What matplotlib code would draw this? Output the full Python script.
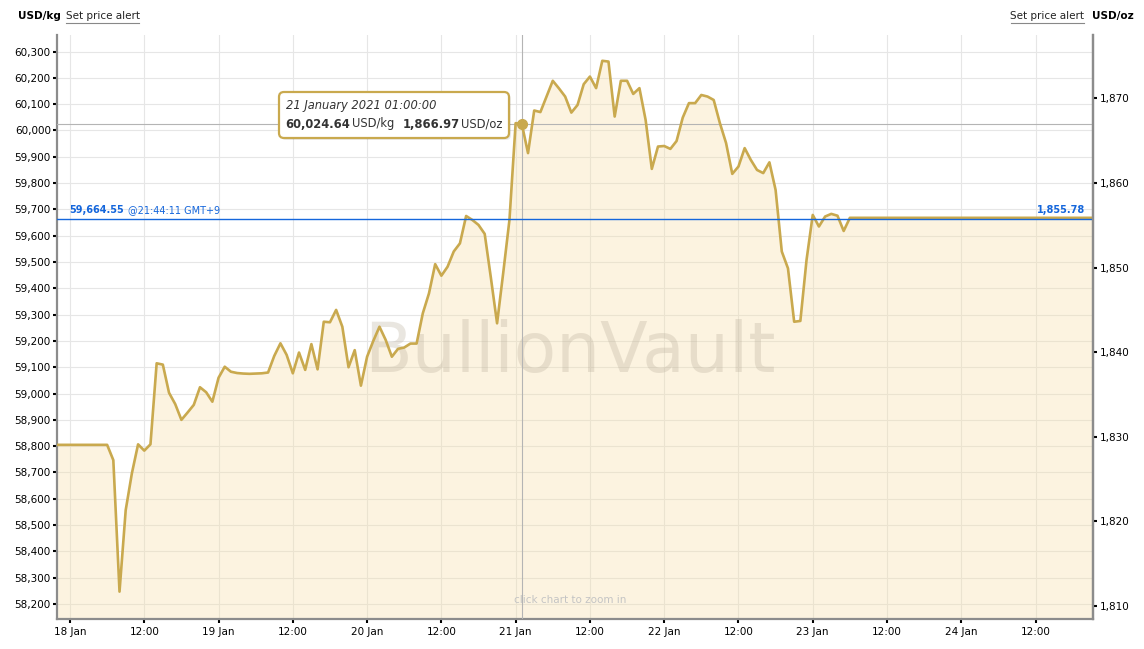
import numpy as np
import matplotlib.pyplot as plt
from matplotlib.patches import FancyBboxPatch
from matplotlib.lines import Line2D
from matplotlib.transforms import IdentityTransform

# hourly gold price in USD/kg, first value is 17 Jan 22:00 (hour -2 from 18 Jan 00:00)
start_hour = -2
prices_kg = [
    58805, 58805, 58805, 58805, 58805, 58805, 58805, 58805, 58805,
    58747, 58247, 58557, 58697, 58807, 58783, 58807, 59115, 59110, 59003,
    58960, 58900, 58928, 58957, 59024, 59005, 58969, 59060, 59102, 59083,
    59078, 59076, 59075, 59076, 59077, 59080, 59143, 59191, 59147, 59077,
    59156, 59090, 59188, 59092, 59273, 59271, 59318, 59254, 59100, 59165,
    59030, 59140, 59200, 59254, 59204, 59140, 59170, 59175, 59190, 59190,
    59305, 59381, 59492, 59448, 59482, 59540, 59571, 59675, 59660, 59641,
    59607, 59440, 59267, 59460, 59660, 60028, 60024.64, 59914, 60076, 60070,
    60130, 60189, 60160, 60129, 60068, 60097, 60176, 60205, 60161, 60265,
    60262, 60053, 60189, 60189, 60139, 60161, 60040, 59854, 59939, 59941,
    59930, 59960, 60049, 60104, 60104, 60135, 60129, 60116, 60028, 59952,
    59835, 59863, 59933, 59888, 59850, 59838, 59879, 59774, 59540, 59476,
    59273, 59276, 59508, 59679, 59635, 59673, 59683, 59676, 59618, 59668,
]
# market closed for the weekend, price held until the end of the window
close_hour = 165.2
close_price = 59668

tick_hours = list(range(0, 168, 12))
tick_labels = ['18 Jan', '12:00', '19 Jan', '12:00', '20 Jan', '12:00', '21 Jan',
               '12:00', '22 Jan', '12:00', '23 Jan', '12:00', '24 Jan', '12:00']

hover_hour = 73
hover_kg = 60024.64
hover_oz = 1866.97
hover_label = '21 January 2021 01:00:00'

last_kg = 59664.55
last_oz = 1855.78
last_time = '@21:44:11 GMT+9'

KG_TO_OZ = 32.1507
W, H = 1144, 649
GOLD = '#c9a94e'
BLUE = '#1466dc'


def px(x, y):
    return x / W, 1 - y / H


fig = plt.figure(figsize=(W / 100, H / 100), dpi=100)
ax = fig.add_axes([57 / W, 1 - 619 / H, (1092.5 - 57) / W, (619 - 35) / H])

hours = start_hour + np.arange(len(prices_kg))
x = np.append(hours, close_hour)
y = np.append(prices_kg, close_price)

ylo, yhi = 58143, 60363
ax.fill_between(x, y, ylo, color='#f7dfa8', alpha=0.35, lw=0, zorder=2)
ax.plot(x, y, color=GOLD, lw=1.9, zorder=4)

ax.set_xlim(-2.1, 165.2)
ax.set_ylim(ylo, yhi)
ax.set_xticks(tick_hours)
ax.set_xticklabels(tick_labels)
ax.set_yticks(np.arange(58200, 60301, 100))
ax.set_yticklabels(['{:,.0f}'.format(v) for v in np.arange(58200, 60301, 100)])
ax.set_axisbelow(True)
ax.grid(color='#e6e6e6', lw=0.8)

ax.spines['top'].set_visible(False)
for s in ['left', 'right', 'bottom']:
    ax.spines[s].set_color('#8c8c8c')
    ax.spines[s].set_linewidth(1.6)
ax.tick_params(axis='y', length=3, width=1.5, color='black', pad=1.5, labelsize=7.5)
ax.tick_params(axis='x', length=3, width=1.5, color='black', pad=3, labelsize=7.5)

# right axis in USD/oz
ax2 = ax.twinx()
ax2.set_ylim(ylo / KG_TO_OZ, yhi / KG_TO_OZ)
oz_ticks = np.arange(1810, 1871, 10)
ax2.set_yticks(oz_ticks)
ax2.set_yticklabels(['{:,.0f}'.format(v) for v in oz_ticks])
for s in ['left', 'top', 'bottom']:
    ax2.spines[s].set_visible(False)
ax2.spines['right'].set_color('#8c8c8c')
ax2.spines['right'].set_linewidth(1.6)
ax2.tick_params(axis='y', length=3, width=1.5, color='black', pad=2, labelsize=7.5)

# watermark + hint
ax.text(0.4954, 0.457, 'BullionVault', transform=ax.transAxes, ha='center', va='center',
        fontsize=50, color='#b8ad9a', alpha=0.3, zorder=3)
ax.text(0.4954, 0.0325, 'click chart to zoom in', transform=ax.transAxes, ha='center',
        va='center', fontsize=7.5, color='#c4c4c4', zorder=3)

# last price line
ax.axhline(last_kg, color=BLUE, lw=1.0, zorder=5)
fig.text(*px(69, 210), '{:,.2f}'.format(last_kg), color=BLUE, fontsize=7, fontweight='bold', va='center')
fig.text(*px(128, 210), last_time, color=BLUE, fontsize=7, va='center')
fig.text(*px(1085, 210), '{:,.2f}'.format(last_oz), color=BLUE, fontsize=7, fontweight='bold',
         va='center', ha='right')

# crosshair + hover point
ax.axvline(hover_hour, color='#b4b4b4', lw=0.8, zorder=3)
ax.axhline(hover_kg, color='#b4b4b4', lw=0.8, zorder=3)
ax.plot(hover_hour, hover_kg, 'o', ms=7, color=GOLD, zorder=6)

# tooltip
shadow = FancyBboxPatch((281, H - 140), 230, 46, boxstyle='round,pad=0,rounding_size=5',
                        transform=IdentityTransform(), fc='#000000', ec='none', alpha=0.08)
box = FancyBboxPatch((279, H - 138), 230, 46, boxstyle='round,pad=0,rounding_size=5',
                     transform=IdentityTransform(), fc='white', ec=GOLD, lw=1.6)
fig.add_artist(shadow)
fig.add_artist(box)
fig.text(*px(286, 105), hover_label, fontsize=8.3, style='italic', va='center', color='#333333')
fig.text(*px(285, 124), '{:,.2f}'.format(hover_kg), fontsize=8.3, fontweight='bold', va='center', color='#333333')
fig.text(*px(352, 124), 'USD/kg', fontsize=8.3, va='center', color='#333333')
fig.text(*px(403, 124), '{:,.2f}'.format(hover_oz), fontsize=8.3, fontweight='bold', va='center', color='#333333')
fig.text(*px(461, 124), 'USD/oz', fontsize=8.3, va='center', color='#333333')

# header
fig.text(*px(18, 16), 'USD/kg', fontsize=7.5, fontweight='bold', va='center')
fig.text(*px(66, 16), 'Set price alert', fontsize=7.5, va='center', color='#222222')
fig.text(*px(1084, 16), 'Set price alert', fontsize=7.5, va='center', ha='right', color='#222222')
fig.text(*px(1134, 16), 'USD/oz', fontsize=7.5, fontweight='bold', va='center', ha='right')
for x0, x1 in [(66, 139), (1011, 1084)]:
    fig.add_artist(Line2D([x0 / W, x1 / W], [1 - 22.5 / H] * 2, color='#888888', lw=0.8))

fig.savefig('out.png', dpi=100)
